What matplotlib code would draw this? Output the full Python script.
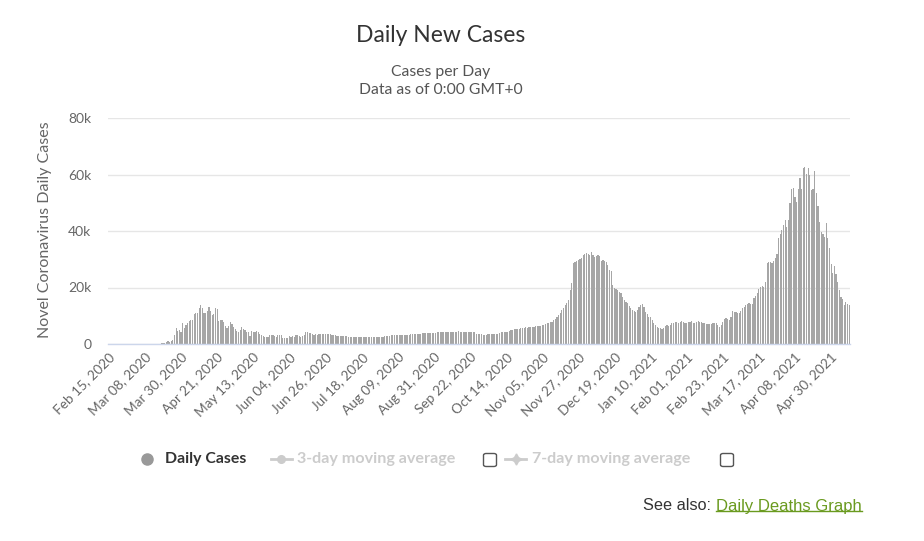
import datetime as dt
import matplotlib
matplotlib.use("Agg")
import matplotlib.pyplot as plt
from matplotlib.lines import Line2D
from matplotlib.patches import FancyBboxPatch

# ---- data: daily new cases, one list per month ----
start_date = dt.date(2020, 2, 15)

cases_2020_02 = [0, 0, 0, 0, 0, 0, 0, 0, 0, 0, 0, 0, 0, 0, 0]
cases_2020_03 = [0, 0, 0, 0, 0, 0, 0, 0, 0, 0,
                 3, 0, 10, 10, 15, 50, 130, 250, 450, 500,
                 750, 950, 800, 900, 1500, 3200, 5500, 4600, 4900, 4300, 7300]
cases_2020_04 = [5800, 6600, 7500, 8100, 8400, 8500, 10500, 11100, 11000, 12800,
                 13800, 12900, 11000, 11000, 11600, 13000, 11800, 10200, 10700, 12600,
                 12500, 8300, 8400, 8400, 7700, 6400, 5800, 6500, 7900, 7100]
cases_2020_05 = [5900, 5400, 4500, 4400, 4900, 6100, 5300, 5000, 4200, 4200,
                 3000, 4600, 4400, 4400, 4600, 4300, 3700, 3100, 2800, 2600,
                 2600, 2600, 3200, 3100, 3100, 2700, 2600, 3200, 3200, 3100, 2300]
cases_2020_06 = [2200, 2100, 2300, 2700, 2500, 2700, 2400, 3100, 3200, 2700,
                 2500, 2700, 3200, 4200, 4300, 4000, 3900, 3500, 3300, 3400,
                 3300, 3500, 3600, 3700, 3600, 3600, 3500, 3500, 3400, 3300]
cases_2020_07 = [3200, 3100, 3000, 2900, 2900, 2800, 2800, 2700, 2700, 2600,
                 2600, 2500, 2500, 2500, 2400, 2400, 2400, 2400, 2400, 2400,
                 2400, 2400, 2400, 2400, 2500, 2500, 2500, 2600, 2600, 2600, 2600]
cases_2020_08 = [2700, 2800, 2900, 3000, 3100, 3100, 3100, 3200, 3200, 3100,
                 3200, 3200, 3300, 3300, 3200, 3300, 3400, 3400, 3400, 3500,
                 3500, 3600, 3700, 3800, 3800, 3900, 3800, 3900, 3900, 4000, 3900]
cases_2020_09 = [4000, 4100, 4100, 4200, 4100, 4200, 4300, 4300, 4400, 4300,
                 4400, 4400, 4300, 4400, 4500, 4400, 4300, 4400, 4300, 4400,
                 4300, 4200, 4300, 4200, 4100, 3600, 3500, 3500, 3400, 3300]
cases_2020_10 = [3300, 3300, 3400, 3500, 3500, 3500, 3600, 3500, 3600, 3900,
                 4100, 4200, 4200, 4300, 4300, 4600, 5000, 5100, 5200, 5200,
                 5400, 5300, 5600, 5700, 5800, 5900, 5800, 5900, 6000, 5900, 6000]
cases_2020_11 = [6200, 6300, 6400, 6500, 6700, 6700, 7100, 7300, 7500, 7700,
                 7900, 8400, 9000, 9500, 10200, 10900, 12000, 12900, 13900, 14600,
                 15600, 19100, 21500, 28500, 29100, 29400, 29800, 30100, 30400, 31500]
cases_2020_12 = [31900, 32300, 31800, 31600, 32600, 31500, 30900, 31200, 31500, 31000,
                 29500, 29800, 29500, 29000, 28000, 26200, 25800, 21000, 19700, 19400,
                 19100, 18500, 17900, 16800, 15600, 15000, 14400, 13500, 12600, 12200, 11800]
cases_2021_01 = [11400, 12200, 13000, 13800, 14000, 13200, 11500, 10500, 9700, 9400,
                 8400, 7600, 6700, 6100, 5800, 5500, 5300, 5600, 6200, 6700,
                 6400, 6800, 7300, 7500, 7800, 7900, 7600, 7900, 8000, 7700, 7600]
cases_2021_02 = [7600, 7800, 7900, 8000, 7600, 7500, 7800, 8100, 7900, 7800,
                 7600, 7300, 7100, 7000, 7200, 7100, 7300, 7400, 7300, 6900,
                 6100, 6800, 7900, 8700, 9100, 8700, 8600, 9500]
cases_2021_03 = [11600, 11400, 11200, 11000, 10900, 11800, 12600, 13200, 13800, 14200,
                 14400, 14300, 14200, 16200, 17000, 18000, 19500, 20300, 20400, 20300,
                 22000, 28600, 29100, 29000, 28600, 29500, 30300, 32000, 37400, 39000, 40300]
cases_2021_04 = [42100, 43900, 41500, 44000, 49800, 54700, 55100, 52100, 50400, 55000,
                 58600, 55000, 62300, 62500, 60200, 62300, 59800, 54500, 54700, 61300,
                 53300, 48900, 43300, 39600, 39000, 38000, 42700, 37400, 33900, 28300]
cases_2021_05 = [25000, 27700, 24800, 22000, 19000, 16700, 16000, 13800, 15000, 14200, 13900]

tick_labels = ["Feb 15, 2020", "Mar 08, 2020", "Mar 30, 2020", "Apr 21, 2020",
               "May 13, 2020", "Jun 04, 2020", "Jun 26, 2020", "Jul 18, 2020",
               "Aug 09, 2020", "Aug 31, 2020", "Sep 22, 2020", "Oct 14, 2020",
               "Nov 05, 2020", "Nov 27, 2020", "Dec 19, 2020", "Jan 10, 2021",
               "Feb 01, 2021", "Feb 23, 2021", "Mar 17, 2021", "Apr 08, 2021",
               "Apr 30, 2021"]
y_ticks = [0, 20000, 40000, 60000, 80000]
y_tick_labels = ["0", "20k", "40k", "60k", "80k"]

daily_cases = (cases_2020_02 + cases_2020_03 + cases_2020_04 + cases_2020_05 +
               cases_2020_06 + cases_2020_07 + cases_2020_08 + cases_2020_09 +
               cases_2020_10 + cases_2020_11 + cases_2020_12 + cases_2021_01 +
               cases_2021_02 + cases_2021_03 + cases_2021_04 + cases_2021_05)
dates = [start_date + dt.timedelta(days=i) for i in range(len(daily_cases))]
date_strings = [d.strftime("%b %d, %Y") for d in dates]
tick_pos = [date_strings.index(lbl) for lbl in tick_labels]

# ---- figure ----
W, H = 924, 541
plt.rcParams["font.family"] = ["Lato", "DejaVu Sans"]
fig = plt.figure(figsize=(W / 100, H / 100), dpi=100)


def fx(px):
    return px / W


def fy(py):
    return 1 - py / H


ax = fig.add_axes([fx(108), fy(344), 742 / W, 226 / H])
ax.bar(range(len(daily_cases)), daily_cases, width=0.72, color="#a6a6a6", linewidth=0)
ax.set_xlim(-0.5, len(daily_cases) - 0.5)
ax.set_ylim(0, 80000)
ax.set_yticks(y_ticks)
ax.set_yticklabels(y_tick_labels)
ax.yaxis.grid(True, color="#e6e6e6", linewidth=1)
ax.set_axisbelow(True)
for s in ["top", "right", "left"]:
    ax.spines[s].set_visible(False)
ax.spines["bottom"].set_color("#ccd6eb")
ax.spines["bottom"].set_linewidth(1)
ax.tick_params(axis="y", length=0, pad=12, labelcolor="#666666", labelsize=10)
ax.tick_params(axis="x", length=0, pad=5, labelcolor="#666666", labelsize=9.8)
ax.set_xticks(tick_pos)
ax.set_xticklabels(tick_labels, rotation=45, ha="right", va="top",
                   rotation_mode="anchor")

fig.text(fx(45), fy(230), "Novel Coronavirus Daily Cases", rotation=90,
         ha="center", va="center", color="#666666", fontsize=11.5)

# titles
fig.text(fx(441), fy(36), "Daily New Cases", ha="center", va="center",
         color="#333333", fontsize=16.5)
fig.text(fx(441), fy(72), "Cases per Day", ha="center", va="center",
         color="#555555", fontsize=11.3)
fig.text(fx(441), fy(90), "Data as of 0:00 GMT+0", ha="center", va="center",
         color="#555555", fontsize=11.3)

# legend (drawn by hand, like the original)
ly = 459
fig.add_artist(Line2D([fx(147)], [fy(ly)], marker="o", markersize=8,
                      color="#999999", linestyle="none"))
fig.text(fx(165), fy(ly), "Daily Cases", ha="left", va="center",
         color="#333333", fontsize=11.4, fontweight="bold")

fig.add_artist(Line2D([fx(271), fx(292)], [fy(ly), fy(ly)], color="#cccccc", lw=2))
fig.add_artist(Line2D([fx(281)], [fy(ly)], marker="o", markersize=5.5,
                      color="#cccccc", linestyle="none"))
fig.text(fx(297), fy(ly), "3-day moving average", ha="left", va="center",
         color="#cccccc", fontsize=11.6, fontweight="bold")

fig.add_artist(Line2D([fx(505), fx(526)], [fy(ly), fy(ly)], color="#cccccc", lw=2))
fig.add_artist(Line2D([fx(516)], [fy(ly)], marker=(4, 1, 0), markersize=8,
                      color="#cccccc", linestyle="none"))
fig.text(fx(532), fy(ly), "7-day moving average", ha="left", va="center",
         color="#cccccc", fontsize=11.6, fontweight="bold")

for cx in [490, 727]:
    box = FancyBboxPatch((fx(cx - 6.5), fy(ly + 7.5)), 13 / W, 13 / H,
                         boxstyle="round,pad=0,rounding_size=0.003",
                         transform=fig.transFigure, facecolor="white",
                         edgecolor="#555555", linewidth=1)
    fig.add_artist(box)

# "See also" link
fig.text(fx(711), fy(506), "See also:", ha="right", va="center",
         color="#333333", fontsize=11.7, family=["Liberation Sans", "DejaVu Sans"])
link = fig.text(fx(716), fy(506), "Daily Deaths Graph", ha="left", va="center",
                color="#6a9a1f", fontsize=12, family=["Liberation Sans", "DejaVu Sans"])
fig.canvas.draw()
bb = link.get_window_extent()
fig.add_artist(Line2D([bb.x0 / W, bb.x1 / W], [(bb.y0 + 3) / H, (bb.y0 + 3) / H],
                      color="#6a9a1f", lw=1))

fig.savefig("out.png", dpi=100)
